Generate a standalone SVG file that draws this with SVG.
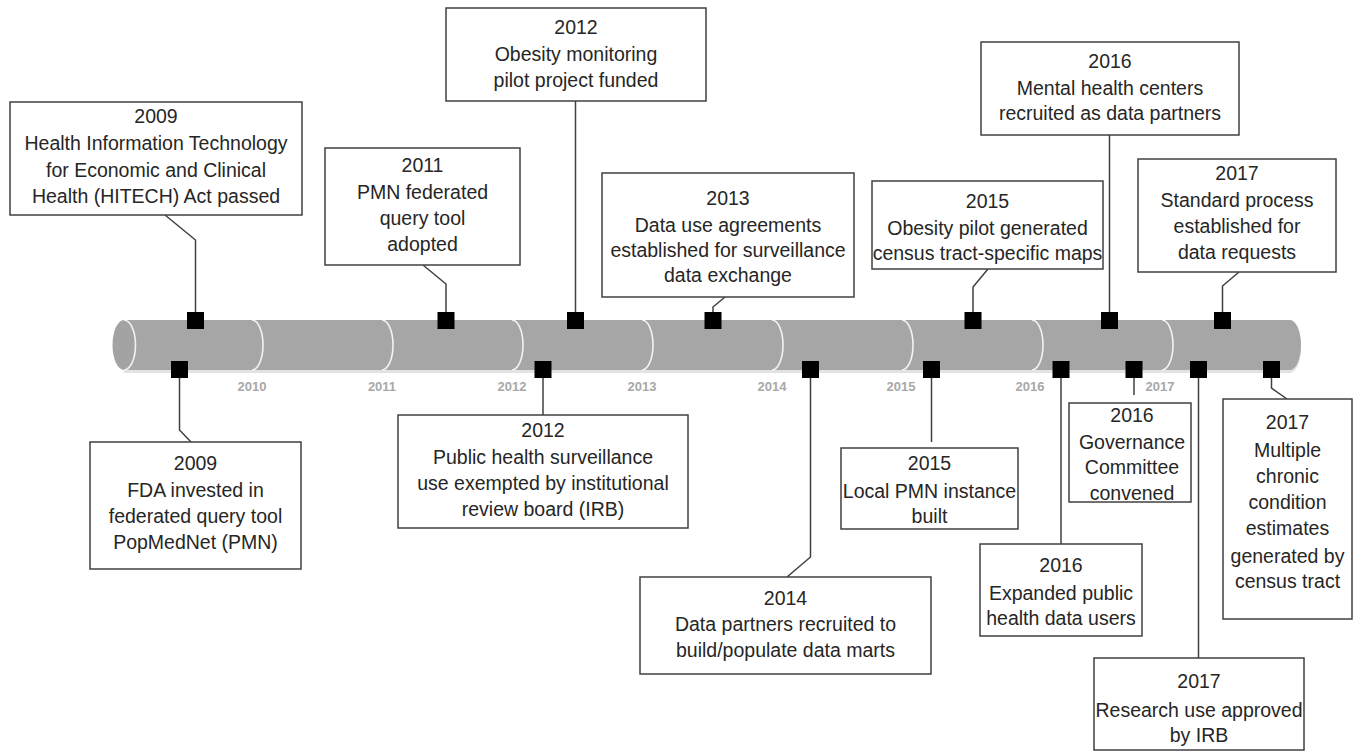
<svg xmlns="http://www.w3.org/2000/svg" width="1363" height="752" viewBox="0 0 1363 752">
<style>
.box{fill:#fff;stroke:#404040;stroke-width:1.5}
.t{font-family:"Liberation Sans",Arial,sans-serif;font-size:19.5px;fill:#262626;text-anchor:middle}
.yr{font-family:"Liberation Sans",Arial,sans-serif;font-size:13px;font-weight:bold;fill:#a8a8a8;text-anchor:middle}
.ln{fill:none;stroke:#404040;stroke-width:1.5}
.sq{fill:#000}
.arc{fill:none;stroke:#f2f2f2;stroke-width:1.6}
</style>
<rect width="1363" height="752" fill="#fff"/>
<g id="timeline">
  <path d="M124,323 H1290 A11,25 0 0 1 1290,373 H124 Z" fill="#e3e3e3"/>
  <path d="M124,320 H1290 A11,25 0 0 1 1290,370 H124 Z" fill="#a6a6a6"/>
  <ellipse cx="124" cy="345" rx="11.5" ry="25" fill="#a3a3a3"/>
  <path class="arc" d="M124,320 A11.5,25 0 0 1 124,370"/>
  <path class="arc" d="M252,320 A11,25 0 0 1 252,370"/>
  <path class="arc" d="M382,320 A11,25 0 0 1 382,370"/>
  <path class="arc" d="M512,320 A11,25 0 0 1 512,370"/>
  <path class="arc" d="M642,320 A11,25 0 0 1 642,370"/>
  <path class="arc" d="M772,320 A11,25 0 0 1 772,370"/>
  <path class="arc" d="M902,320 A11,25 0 0 1 902,370"/>
  <path class="arc" d="M1032,320 A11,25 0 0 1 1032,370"/>
  <path class="arc" d="M1162,320 A11,25 0 0 1 1162,370"/>
  <text class="yr" x="252" y="391">2010</text>
  <text class="yr" x="382" y="391">2011</text>
  <text class="yr" x="512" y="391">2012</text>
  <text class="yr" x="642" y="391">2013</text>
  <text class="yr" x="772" y="391">2014</text>
  <text class="yr" x="901" y="391">2015</text>
  <text class="yr" x="1030" y="391">2016</text>
  <text class="yr" x="1160" y="391">2017</text>
</g>
<g id="connectors">
  <polyline class="ln" points="165,215 195.5,240 195.5,320"/>
  <polyline class="ln" points="179.5,370 179.5,430 191,442"/>
  <polyline class="ln" points="423,265 446,284 446,320"/>
  <polyline class="ln" points="575.5,101 575.5,320"/>
  <polyline class="ln" points="543,370 543,415"/>
  <polyline class="ln" points="725,297 713,307 713,320"/>
  <polyline class="ln" points="810.5,370 810.5,557 787,577"/>
  <polyline class="ln" points="988,269 973,287 973,320"/>
  <polyline class="ln" points="931.5,370 931.5,442"/>
  <polyline class="ln" points="1109.5,135 1109.5,320"/>
  <polyline class="ln" points="1134,370 1134,395"/>
  <polyline class="ln" points="1061,370 1061,544"/>
  <polyline class="ln" points="1239,272 1222.5,286 1222.5,320"/>
  <polyline class="ln" points="1271.5,370 1271.5,388 1287,399"/>
  <polyline class="ln" points="1198.5,370 1198.5,658"/>
  <rect class="sq" x="187" y="312" width="17" height="17"/>
  <rect class="sq" x="437.5" y="312" width="17" height="17"/>
  <rect class="sq" x="567" y="312" width="17" height="17"/>
  <rect class="sq" x="704.5" y="312" width="17" height="17"/>
  <rect class="sq" x="964.5" y="312" width="17" height="17"/>
  <rect class="sq" x="1101" y="312" width="17" height="17"/>
  <rect class="sq" x="1214" y="312" width="17" height="17"/>
  <rect class="sq" x="171" y="361" width="17" height="17"/>
  <rect class="sq" x="534.5" y="361" width="17" height="17"/>
  <rect class="sq" x="802" y="361" width="17" height="17"/>
  <rect class="sq" x="923" y="361" width="17" height="17"/>
  <rect class="sq" x="1052.5" y="361" width="17" height="17"/>
  <rect class="sq" x="1125.5" y="361" width="17" height="17"/>
  <rect class="sq" x="1190" y="361" width="17" height="17"/>
  <rect class="sq" x="1263" y="361" width="17" height="17"/>
</g>
<g id="n2009-hitech">
  <rect class="box" x="10" y="102" width="292" height="113"/>
  <text class="t" x="156" y="123">2009</text>
  <text class="t" x="156" y="150">Health Information Technology</text>
  <text class="t" x="156" y="176.5">for Economic and Clinical</text>
  <text class="t" x="156" y="203">Health (HITECH) Act passed</text>
</g>
<g id="n2009-fda">
  <rect class="box" x="90" y="442" width="211" height="127"/>
  <text class="t" x="195.5" y="470">2009</text>
  <text class="t" x="195.5" y="497">FDA invested in</text>
  <text class="t" x="195.5" y="523">federated query tool</text>
  <text class="t" x="195.5" y="549">PopMedNet (PMN)</text>
</g>
<g id="n2011">
  <rect class="box" x="325" y="148" width="195" height="117"/>
  <text class="t" x="422.5" y="172">2011</text>
  <text class="t" x="422.5" y="199">PMN federated</text>
  <text class="t" x="422.5" y="225">query tool</text>
  <text class="t" x="422.5" y="251">adopted</text>
</g>
<g id="n2012-obesity">
  <rect class="box" x="446" y="8" width="260" height="93"/>
  <text class="t" x="576" y="34">2012</text>
  <text class="t" x="576" y="60.5">Obesity monitoring</text>
  <text class="t" x="576" y="87">pilot project funded</text>
</g>
<g id="n2012-irb">
  <rect class="box" x="398" y="415" width="290" height="113"/>
  <text class="t" x="543" y="437">2012</text>
  <text class="t" x="543" y="464">Public health surveillance</text>
  <text class="t" x="543" y="490">use exempted by institutional</text>
  <text class="t" x="543" y="516">review board (IRB)</text>
</g>
<g id="n2013">
  <rect class="box" x="602" y="173" width="252" height="124"/>
  <text class="t" x="728" y="205">2013</text>
  <text class="t" x="728" y="232">Data use agreements</text>
  <text class="t" x="728" y="257">established for surveillance</text>
  <text class="t" x="728" y="282">data exchange</text>
</g>
<g id="n2014">
  <rect class="box" x="640" y="577" width="291" height="97"/>
  <text class="t" x="785.5" y="605">2014</text>
  <text class="t" x="785.5" y="631">Data partners recruited to</text>
  <text class="t" x="785.5" y="657">build/populate data marts</text>
</g>
<g id="n2015-maps">
  <rect class="box" x="872" y="181" width="231" height="88"/>
  <text class="t" x="987.5" y="208">2015</text>
  <text class="t" x="987.5" y="235">Obesity pilot generated</text>
  <text class="t" x="987.5" y="260">census tract-specific maps</text>
</g>
<g id="n2015-pmn">
  <rect class="box" x="841" y="448" width="177" height="81"/>
  <text class="t" x="929.5" y="470">2015</text>
  <text class="t" x="929.5" y="498">Local PMN instance</text>
  <text class="t" x="929.5" y="523">built</text>
</g>
<g id="n2016-mental">
  <rect class="box" x="981" y="42" width="258" height="93"/>
  <text class="t" x="1110" y="68">2016</text>
  <text class="t" x="1110" y="95">Mental health centers</text>
  <text class="t" x="1110" y="120">recruited as data partners</text>
</g>
<g id="n2016-governance">
  <rect class="box" x="1069" y="403" width="122" height="99"/>
  <text class="t" x="1132" y="422">2016</text>
  <text class="t" x="1132" y="449">Governance</text>
  <text class="t" x="1132" y="474">Committee</text>
  <text class="t" x="1132" y="500">convened</text>
</g>
<g id="n2016-expanded">
  <rect class="box" x="980" y="544" width="162" height="92"/>
  <text class="t" x="1061" y="572">2016</text>
  <text class="t" x="1061" y="600">Expanded public</text>
  <text class="t" x="1061" y="625">health data users</text>
</g>
<g id="n2017-standard">
  <rect class="box" x="1138" y="159" width="198" height="113"/>
  <text class="t" x="1237" y="180">2017</text>
  <text class="t" x="1237" y="207">Standard process</text>
  <text class="t" x="1237" y="233">established for</text>
  <text class="t" x="1237" y="259">data requests</text>
</g>
<g id="n2017-multiple">
  <rect class="box" x="1223" y="399" width="129" height="220"/>
  <text class="t" x="1287.5" y="429">2017</text>
  <text class="t" x="1287.5" y="457">Multiple</text>
  <text class="t" x="1287.5" y="483">chronic</text>
  <text class="t" x="1287.5" y="509">condition</text>
  <text class="t" x="1287.5" y="535">estimates</text>
  <text class="t" x="1287.5" y="563">generated by</text>
  <text class="t" x="1287.5" y="588">census tract</text>
</g>
<g id="n2017-research">
  <rect class="box" x="1094" y="658" width="210" height="92"/>
  <text class="t" x="1199" y="688">2017</text>
  <text class="t" x="1199" y="717">Research use approved</text>
  <text class="t" x="1199" y="742">by IRB</text>
</g>
</svg>
